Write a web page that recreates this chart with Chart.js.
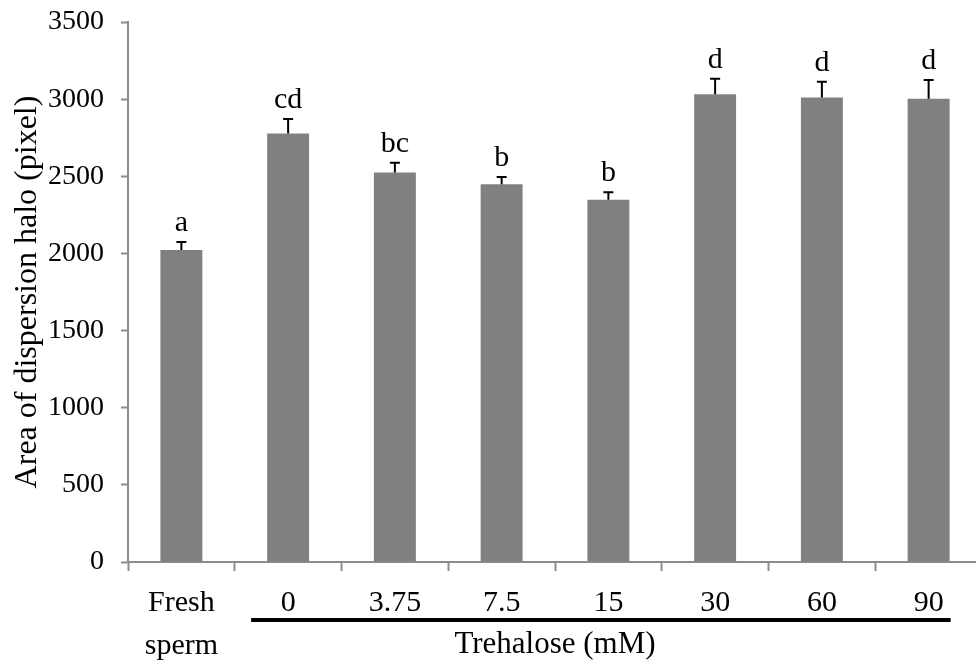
<!DOCTYPE html>
<html>
<head>
<meta charset="utf-8">
<script src="https://cdn.jsdelivr.net/npm/chart.js@4"></script>
<style>
  html, body { margin: 0; padding: 0; background: #fff; overflow: hidden; }
  #wrap { width: 984px; height: 664px; }
</style>
</head>
<body>
<div id="wrap"><canvas id="myChart" width="984" height="664"></canvas></div>
<script>
// values
const categories = [['Fresh', 'sperm'], '0', '3.75', '7.5', '15', '30', '60', '90']
const haloArea = [2022, 2777, 2525, 2448, 2348, 3031, 3011, 3003]
const haloError = [52, 94, 63, 47, 48, 101, 102, 121]
const groupLetters = ['a', 'cd', 'bc', 'b', 'b', 'd', 'd', 'd']
const yTicks = [0, 500, 1000, 1500, 2000, 2500, 3000, 3500]

const serif = '"Liberation Serif", "Times New Roman", serif'
const axisGrey = '#8c8c8c'

const extras = {
    id: 'extras',
    afterDatasetsDraw(chart) {
        const c = chart.ctx
        const y = chart.scales.y
        const x = chart.scales.x
        const meta = chart.getDatasetMeta(0)
        c.save()
        // error bars, upper half only
        c.strokeStyle = '#000'
        c.lineWidth = 2
        meta.data.forEach((bar, i) => {
            const top = y.getPixelForValue(haloArea[i] + haloError[i])
            const base = y.getPixelForValue(haloArea[i])
            c.beginPath()
            c.moveTo(bar.x, base)
            c.lineTo(bar.x, top)
            c.moveTo(bar.x - 5, top)
            c.lineTo(bar.x + 5, top)
            c.stroke()
            // significance letters
            c.fillStyle = '#000'
            c.font = '30px ' + serif
            c.textAlign = 'center'
            c.textBaseline = 'alphabetic'
            c.fillText(groupLetters[i], bar.x, top - 11)
        })
        // bracket line under trehalose groups
        const x0 = x.getPixelForValue(1) - 37
        const x1 = x.getPixelForValue(7) + 22
        c.lineWidth = 4
        c.beginPath()
        c.moveTo(x0, 620)
        c.lineTo(x1, 620)
        c.stroke()
        c.font = '31px ' + serif
        c.textAlign = 'center'
        c.textBaseline = 'middle'
        c.fillText('Trehalose (mM)', (x.left + x.right) / 2, 645)
        c.restore()
    }
}

const ctx = document.getElementById('myChart')
const myChart = new Chart(ctx, {
    type: 'bar',
    data: {
        labels: categories,
        datasets: [{
            label: 'Area of dispersion halo',
            data: haloArea,
            backgroundColor: '#808080',
            borderWidth: 0,
            barPercentage: 0.393,
            categoryPercentage: 1
        }]
    },
    options: {
        responsive: false,
        animation: false,
        devicePixelRatio: 1,
        layout: { padding: { top: 22, right: 2, bottom: 0, left: 0 } },
        plugins: {
            legend: { display: false },
            tooltip: { enabled: false }
        },
        scales: {
            x: {
                offset: true,
                grid: {
                    offset: true,
                    drawOnChartArea: false,
                    drawTicks: true,
                    tickLength: 9,
                    tickColor: axisGrey,
                    tickWidth: 2
                },
                border: { color: axisGrey, width: 2 },
                ticks: {
                    color: '#000',
                    padding: 10,
                    maxRotation: 0,
                    autoSkip: false,
                    font: { family: serif, size: 30, lineHeight: 1.45 }
                },
                afterFit(scale) {
                    scale.height = 102
                    scale.paddingLeft = 0
                    scale.paddingRight = 0
                }
            },
            y: {
                min: 0,
                max: 3500,
                afterBuildTicks(scale) { scale.ticks = yTicks.map(v => ({ value: v })) },
                grid: {
                    drawOnChartArea: false,
                    drawTicks: true,
                    tickLength: 7,
                    tickColor: axisGrey,
                    tickWidth: 2
                },
                border: { color: axisGrey, width: 2 },
                ticks: {
                    color: '#000',
                    padding: 17,
                    callback: v => String(v),
                    font: { family: serif, size: 28 }
                },
                title: {
                    display: true,
                    text: 'Area of dispersion halo (pixel)',
                    color: '#000',
                    padding: { top: 8, bottom: 0 },
                    font: { family: serif, size: 32 }
                },
                afterFit(scale) {
                    scale.width = 128
                    scale.paddingTop = 0
                    scale.paddingBottom = 0
                }
            }
        }
    },
    plugins: [extras]
})
</script>
</body>
</html>
